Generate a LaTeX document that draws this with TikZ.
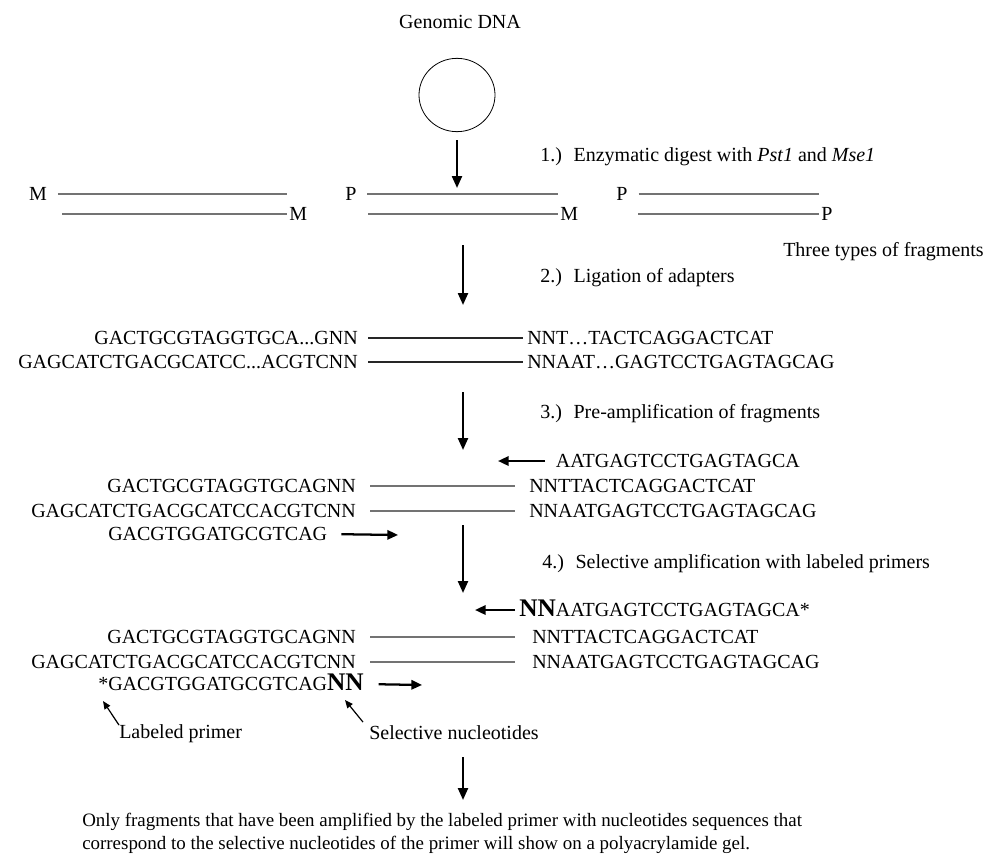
\documentclass[tikz,border=0pt]{standalone}
\usepackage{fontspec}
\setmainfont{Liberation Serif}
\usetikzlibrary{arrows.meta,positioning,shapes.geometric}

\newcommand{\selnn}{{\fontsize{19}{20}\selectfont\bfseries NN}}

\begin{document}
\begin{tikzpicture}[
        x=0.75pt, y=-0.75pt,
        seq/.style={inner sep=0pt, text height=10pt, text depth=0pt, font=\fontsize{15}{18}\selectfont},
        note/.style={seq, anchor=west},
        strand/.style={draw=black!55, line width=1.1pt},
        adapter/.style={draw=black!85, line width=0.9pt},
        flow/.style={-{Triangle[length=9pt,width=7.5pt]}, line width=1.7pt},
        primer/.style={-{Triangle[length=8pt,width=7pt]}, line width=1.7pt},
        pointer/.style={-{Triangle[length=6pt,width=5pt]}, line width=0.9pt}
    ]
        \useasboundingbox (0,0) rectangle (989,857);

        % Genomic DNA
        \node[seq] (genome) at (460,22) {Genomic DNA};
        \node[draw, ellipse, line width=0.6pt, minimum width=57pt, minimum height=55pt] (dna) at (457,95) {};

        % Step labels
        \node[note] (step1) at (540,155) {1.)~ Enzymatic digest with \textit{Pst1} and \textit{Mse1}};
        \node[note] (step2) at (540,276) {2.)~ Ligation of adapters};
        \node[note] (step3) at (540,412) {3.)~ Pre-amplification of fragments};
        \node[note] (step4) at (542,562) {4.)~ Selective amplification with labeled primers};

        % Flow arrows
        \coordinate (f1b) at (457,188);
        \draw[flow, shorten <=6pt] (dna.south) -- (f1b);
        \foreach \n/\ya/\yb in {2/245/305, 3/392/450, 4/525/593, 5/757/800} {
            \coordinate (f\n a) at (463,\ya);
            \coordinate (f\n b) at (463,\yb);
            \draw[flow] (f\n a) -- (f\n b);
        }

        % Fragments after digest
        \foreach \k/\tl/\tx/\xa/\xb/\bl in {1/M/38/62/287/M, 2/P/351/368/558/M, 3/P/622/638/819/P} {
            \node[seq, inner xsep=8pt] (top\k) at (\tx,194) {\tl};
            \coordinate (te\k) at (\xb,194);
            \coordinate (bs\k) at (\xa,214);
            \node[seq, anchor=west, inner xsep=1.5pt] (bot\k) at (\xb,214) {\bl};
            \draw[strand] (top\k) -- (te\k);
            \draw[strand] (bs\k) -- (bot\k);
        }
        \node[seq, anchor=east] (types) at (984,250) {Three types of fragments};

        % Ligated adapters
        \node[seq, anchor=east, inner xsep=7.5pt] (ligL1) at (368,338) {GACTGCGTAGGTGCA...GNN};
        \node[seq, anchor=west, inner xsep=3pt] (ligR1) at (523,338) {NNT…TACTCAGGACTCAT};
        \node[seq, anchor=east, inner xsep=7.5pt] (ligL2) at (368,362) {GAGCATCTGACGCATCC...ACGTCNN};
        \node[seq, anchor=west, inner xsep=3pt] (ligR2) at (523,362) {NNAAT…GAGTCCTGAGTAGCAG};
        \draw[adapter] (ligL1) -- (ligR1);
        \draw[adapter] (ligL2) -- (ligR2);

        % Pre-amplification
        \coordinate (preT) at (498,461);
        \node[seq, anchor=west, inner xsep=8pt] (preR0) at (545,461) {AATGAGTCCTGAGTAGCA};
        \draw[primer] (preR0) -- (preT);
        \node[seq, anchor=east, inner xsep=10.5pt] (preL1) at (370,486) {GACTGCGTAGGTGCAGNN};
        \node[seq, anchor=west, inner xsep=10.5pt] (preR1) at (515,486) {NNTTACTCAGGACTCAT};
        \node[seq, anchor=east, inner xsep=10.5pt] (preL2) at (370,511) {GAGCATCTGACGCATCCACGTCNN};
        \node[seq, anchor=west, inner xsep=10.5pt] (preR2) at (515,511) {NNAATGAGTCCTGAGTAGCAG};
        \draw[strand] (preL1) -- (preR1);
        \draw[strand] (preL2) -- (preR2);
        \node[seq, anchor=west] (preL3) at (108,534) {GACGTGGATGCGTCAG};
        \coordinate (preT3) at (398,535);
        \draw[primer, shorten <=10.5pt] (preL3.east) -- (preT3);

        % Selective amplification
        \coordinate (selT) at (475,610);
        \node[seq, anchor=west, inner xsep=3pt] (selR0) at (515,610) {\selnn AATGAGTCCTGAGTAGCA*};
        \draw[primer] (selR0) -- (selT);
        \node[seq, anchor=east, inner xsep=10.5pt] (selL1) at (370,637) {GACTGCGTAGGTGCAGNN};
        \node[seq, anchor=west, inner xsep=12.75pt] (selR1) at (515,637) {NNTTACTCAGGACTCAT};
        \node[seq, anchor=east, inner xsep=10.5pt] (selL2) at (370,662) {GAGCATCTGACGCATCCACGTCNN};
        \node[seq, anchor=west, inner xsep=12.75pt] (selR2) at (515,662) {NNAATGAGTCCTGAGTAGCAG};
        \draw[strand] (selL1) -- (selR1);
        \draw[strand] (selL2) -- (selR2);
        \node[seq, anchor=west] (selL3) at (98,684) {*GACGTGGATGCGTCAG\selnn};
        \coordinate (selT3) at (422,685);
        \draw[primer, shorten <=11pt] (selL3.east) -- (selT3);

        % Pointers
        \node[seq, anchor=west] (label) at (119,732) {Labeled primer};
        \node[seq, anchor=west] (select) at (369,733) {Selective nucleotides};
        \coordinate (labelT) at (103,701);
        \coordinate (selectT) at (345,700);
        \draw[pointer] (label.north west) -- (labelT);
        \draw[pointer] ([xshift=-4.5pt,yshift=3pt]select.north west) -- (selectT);

        % Conclusion
        \node[seq, anchor=west, font=\fontsize{14.2}{17}\selectfont] (result1) at (82,820) {Only fragments that have been amplified by the labeled primer with nucleotides sequences that};
        \node[seq, anchor=west, font=\fontsize{14.2}{17}\selectfont] (result2) at (82,843) {correspond to the selective nucleotides of the primer will show on a polyacrylamide gel.};

    \end{tikzpicture}
\end{document}
